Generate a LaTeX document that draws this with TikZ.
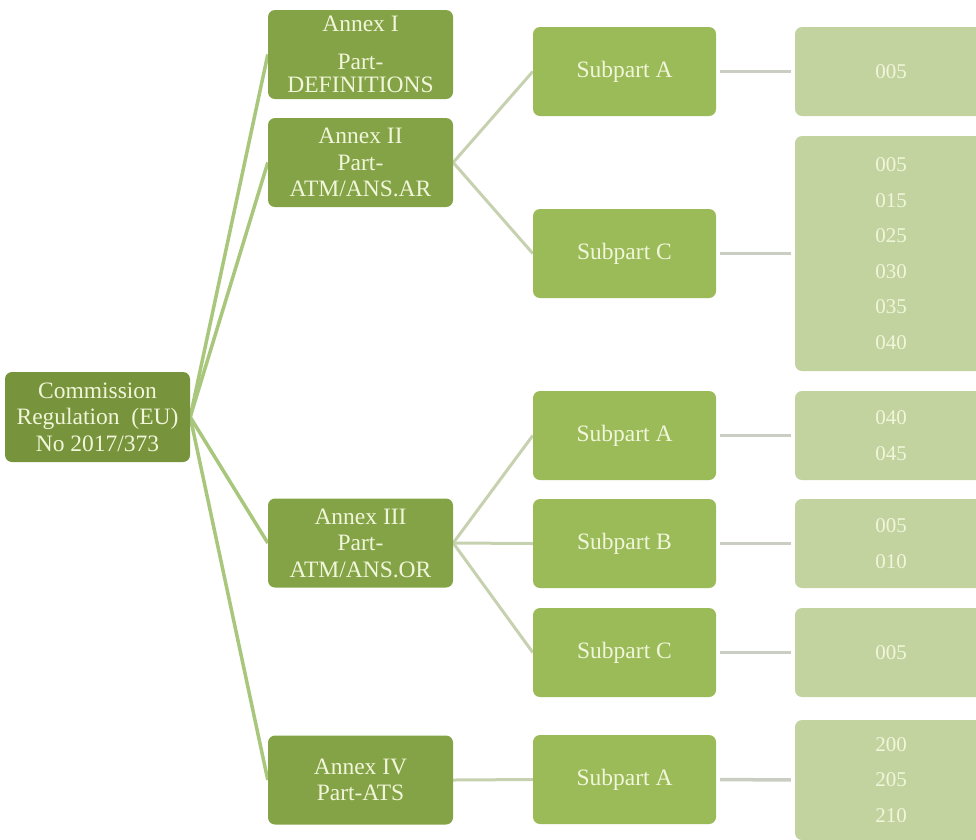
\documentclass[tikz,border=0pt]{standalone}
\usepackage{fontspec}
\setmainfont{Liberation Serif}
\pgfdeclarelayer{bg}
\pgfsetlayers{bg,main}
\begin{document}
\definecolor{rootc}{HTML}{77933C}
\definecolor{annexc}{HTML}{84A346}
\definecolor{subc}{HTML}{9BBB59}
\definecolor{leafc}{HTML}{C2D3A0}
\definecolor{txtc}{HTML}{F1F6DA}
\definecolor{lineA}{HTML}{A8C77C}
\definecolor{lineB}{HTML}{C6D1B0}
\definecolor{lineC}{HTML}{C9CDC2}
\begin{tikzpicture}[x=1pt,y=-1pt,
  box/.style={rounded corners=7pt, align=center, text=txtc, inner sep=0pt,
     font=\fontsize{23.5}{26.5}\selectfont},
  rootbox/.style={box, fill=rootc, minimum width=185pt, minimum height=90pt},
  annexbox/.style={box, fill=annexc, minimum width=185pt, minimum height=89pt},
  subbox/.style={box, fill=subc, minimum width=183pt, minimum height=89pt},
  leafbox/.style={box, fill=leafc, minimum width=192pt, font=\fontsize{21}{35.5}\selectfont},
  linkA/.style={draw=lineA, line width=3.5pt},
  linkB/.style={draw=lineB, line width=3pt},
  linkC/.style={draw=lineC, line width=3.5pt, shorten <=4pt, shorten >=4pt}]
\useasboundingbox (0,0) rectangle (976,839);
\clip (0,0) rectangle (976,839);
% root
\node[rootbox] (root) at (97.5,417) {Commission\\Regulation~~(EU)\\No 2017/373};
% annexes
\node[annexbox] (a1) at (360.5,54.5) {Annex I\\[11pt]Part-\\[-3pt]DEFINITIONS};
\node[annexbox] (a2) at (360.5,162.5) {Annex II\\Part-\\ATM/ANS.AR};
\node[annexbox] (a3) at (360.5,543) {Annex III\\Part-\\ATM/ANS.OR};
\node[annexbox] (a4) at (360.5,780) {Annex IV\\Part-ATS};
% subparts
\node[subbox] (s1) at (624.5,71.5) {Subpart A};
\node[subbox] (s2) at (624.5,253.5) {Subpart C};
\node[subbox] (s3) at (624.5,435.5) {Subpart A};
\node[subbox] (s4) at (624.5,543.5) {Subpart B};
\node[subbox] (s5) at (624.5,652.5) {Subpart C};
\node[subbox] (s6) at (624.5,779.5) {Subpart A};
% leaves
\node[leafbox, minimum height=89pt] (l1) at (891,71.5) {005};
\node[leafbox, minimum height=235pt] (l2) at (891,253.5) {005\\015\\025\\030\\035\\040};
\node[leafbox, minimum height=89pt] (l3) at (891,435.5) {040\\045};
\node[leafbox, minimum height=89pt] (l4) at (891,543.5) {005\\010};
\node[leafbox, minimum height=89pt] (l5) at (891,652.5) {005};
\node[leafbox, minimum height=120pt] (l6) at (891,780) {200\\205\\210};
% connectors
\begin{pgfonlayer}{bg}
\foreach \a in {a1,a2,a3,a4} \path[linkA] (root.east) -- (\a.west);
\path[linkB] (a2.east) -- (s1.west);
\path[linkB] (a2.east) -- (s2.west);
\path[linkB] (a3.east) -- (s3.west);
\path[linkB] (a3.east) -- (s4.west);
\path[linkB] (a3.east) -- (s5.west);
\path[linkB] (a4.east) -- (s6.west);
\end{pgfonlayer}
\path[linkC] (s1.east) -- (l1.west);
\path[linkC] (s2.east) -- (l2.west);
\path[linkC] (s3.east) -- (l3.west);
\path[linkC] (s4.east) -- (l4.west);
\path[linkC] (s5.east) -- (l5.west);
\path[linkC] (s6.east) -- (l6.west);
\end{tikzpicture}
\end{document}
